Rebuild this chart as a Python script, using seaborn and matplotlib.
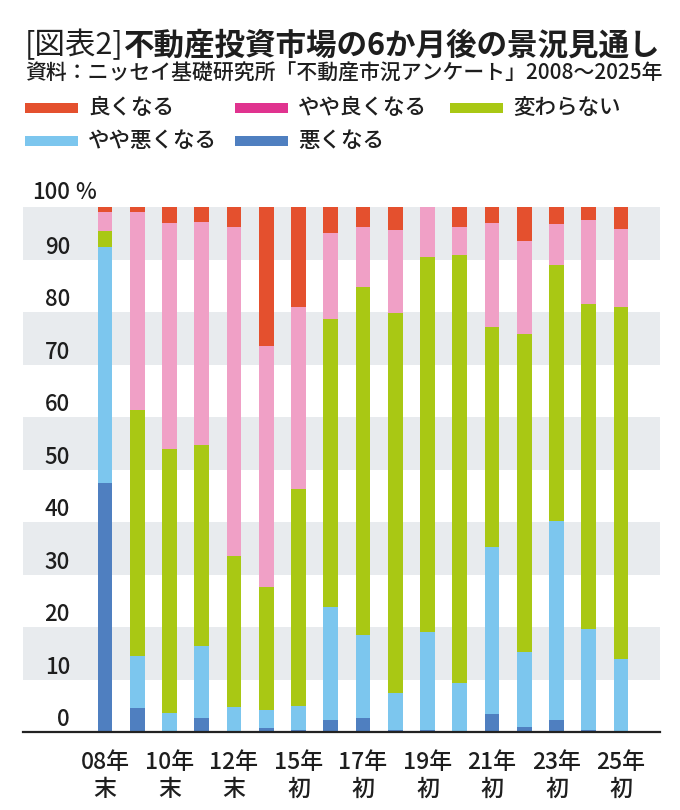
import numpy as np
import pandas as pd
import matplotlib
matplotlib.use('Agg')
import matplotlib.pyplot as plt
import seaborn as sns
from matplotlib.patches import Rectangle

# survey periods (only every other one is labelled on the axis)
periods = ['08年末', '09年末', '10年末', '11年末', '12年末', '14年初', '15年初', '16年初', '17年初',
           '18年初', '19年初', '20年初', '21年初', '22年初', '23年初', '24年初', '25年初']
tick_labels = ['08年\n末', '', '10年\n末', '', '12年\n末', '', '15年\n初', '', '17年\n初',
               '', '19年\n初', '', '21年\n初', '', '23年\n初', '', '25年\n初']

# shares in %
good      = [1.0, 1.0, 3.1, 2.8, 3.9, 26.5, 19.0, 5.0, 3.9, 4.3, 0.0, 3.9, 3.1, 6.5, 3.2, 2.5, 4.1]
some_good = [3.6, 37.7, 42.9, 42.5, 62.6, 45.8, 34.8, 16.4, 11.3, 15.8, 9.5, 5.2, 19.8, 17.7, 7.8, 16.0, 14.9]
same      = [3.0, 46.8, 50.4, 38.4, 28.7, 23.5, 41.2, 54.7, 66.3, 72.4, 71.4, 81.6, 41.9, 60.5, 48.8, 61.8, 67.0]
some_bad  = [45.0, 9.9, 3.6, 13.7, 4.8, 3.4, 4.6, 21.6, 15.9, 7.2, 18.8, 9.3, 31.8, 14.3, 38.0, 19.4, 14.0]
bad       = [47.4, 4.6, 0.0, 2.6, 0.0, 0.8, 0.4, 2.3, 2.6, 0.3, 0.3, 0.0, 3.4, 1.0, 2.2, 0.3, 0.0]

series_names = ['良くなる', 'やや良くなる', '変わらない', 'やや悪くなる', '悪くなる']
y_ticks = [0, 10, 20, 30, 40, 50, 60, 70, 80, 90]

bar_colors = {'良くなる': '#e4502e', 'やや良くなる': '#f0a0c6', '変わらない': '#a9c814',
              'やや悪くなる': '#7cc6ee', '悪くなる': '#4f7fc0'}
legend_colors = {'良くなる': '#e4502e', 'やや良くなる': '#e0338f', '変わらない': '#a9c814',
                 'やや悪くなる': '#7cc6ee', '悪くなる': '#4f7fc0'}

sns.set_style('white')
plt.rcParams['font.family'] = ['Noto Sans CJK JP', 'DejaVu Sans']
txt = '#1e1e1e'
wt = 'medium'

df = pd.DataFrame({'period': periods, '良くなる': good, 'やや良くなる': some_good,
                   '変わらない': same, 'やや悪くなる': some_bad, '悪くなる': bad})

# cumulative tops, bottom -> top: 悪くなる, やや悪くなる, 変わらない, やや良くなる, 良くなる
stack_order = ['悪くなる', 'やや悪くなる', '変わらない', 'やや良くなる', '良くなる']
cum = df[stack_order].cumsum(axis=1)

fig = plt.figure(figsize=(6.8, 8.1), dpi=100)
ax = fig.add_axes([23 / 680, 78 / 810, 637 / 680, 525 / 810])

for lo in [10, 30, 50, 70, 90]:
    ax.axhspan(lo, lo + 10, color='#e8ebee', zorder=0, lw=0)

# draw tallest layer first, overlay smaller ones
for name in reversed(stack_order):
    layer = pd.DataFrame({'period': periods, 'top': cum[name].values})
    sns.barplot(data=layer, x='period', y='top', order=periods, color=bar_colors[name],
                width=0.46, linewidth=0, saturation=1, errorbar=None, ax=ax, zorder=2)

ax.set_ylim(0, 100)
ax.set_xlim(-2.54, 17.21)
ax.set_xlabel('')
ax.set_ylabel('')
ax.set_yticks([])
ax.set_xticks(range(len(periods)))
ax.set_xticklabels(tick_labels, fontsize=16.5, linespacing=1.2, fontweight=wt, color=txt)
ax.tick_params(axis='x', length=0, pad=14)
for s in ['top', 'right', 'left']:
    ax.spines[s].set_visible(False)
ax.spines['bottom'].set_color('#222222')
ax.spines['bottom'].set_linewidth(1.6)

# y labels sit inside the band area, slightly above their line
lab_x = -1.085
for v in y_ticks:
    ax.text(lab_x, v + 2.3, str(v), ha='right', va='center', fontsize=16, fontweight=wt, color=txt)
ax.text(lab_x, 102.8, '100', ha='right', va='center', fontsize=16, fontweight=wt, color=txt, clip_on=False)
ax.text(lab_x + 0.15, 102.8, '%', ha='left', va='center', fontsize=16, fontweight=wt, color=txt, clip_on=False)

# title in two weights
r = fig.canvas.get_renderer()
t1 = fig.text(25 / 680, 1 - 45 / 810, '[図表2]', fontsize=22, ha='left', va='center', color=txt)
bb = t1.get_window_extent(renderer=r)
fig.text(bb.x1 / fig.bbox.width, 1 - 45 / 810, '不動産投資市場の6か月後の景況見通し',
         fontsize=22, fontweight='bold', ha='left', va='center', color=txt)
fig.text(25 / 680, 1 - 74 / 810, '資料：ニッセイ基礎研究所「不動産市況アンケート」2008～2025年',
         fontsize=15, fontweight=wt, ha='left', va='center', color=txt)

# legend drawn by hand
leg_pos = [(25, 108), (235, 108), (450, 108), (25, 141), (235, 141)]
for name, (px, py) in zip(series_names, leg_pos):
    fig.add_artist(Rectangle((px / 680, 1 - (py + 5) / 810), 53 / 680, 10 / 810,
                             transform=fig.transFigure, color=legend_colors[name], lw=0))
    fig.text((px + 63) / 680, 1 - py / 810, name, fontsize=15.5, fontweight=wt,
             ha='left', va='center', color=txt)

fig.savefig('out.png', dpi=100)
